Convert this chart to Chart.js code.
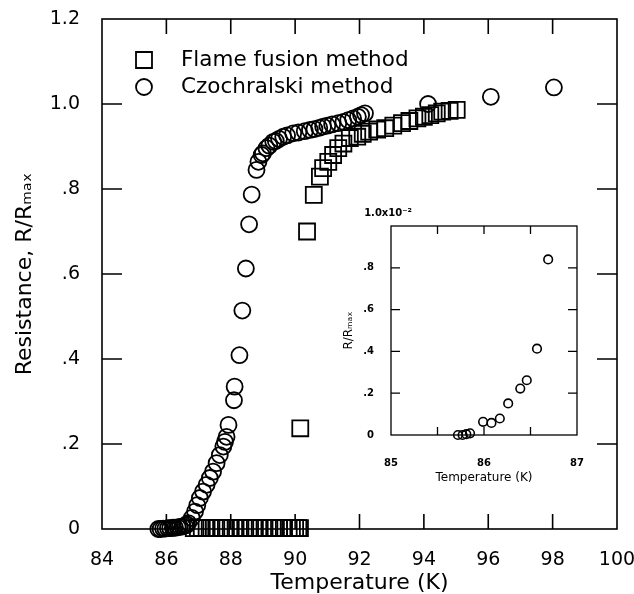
<!DOCTYPE html>
<html>
<head>
<meta charset="utf-8">
<script src="https://cdn.jsdelivr.net/npm/chart.js@4/dist/chart.umd.min.js"></script>
<style>
  html, body { margin: 0; padding: 0; background: #fff; }
  #wrap { position: relative; width: 634px; height: 594px; }
  #main { position: absolute; left: 0; top: 0; }
  #inset { position: absolute; left: 330px; top: 200px; }
</style>
</head>
<body>
<div id="wrap">
  <canvas id="main" width="634" height="594"></canvas>
  <canvas id="inset" width="260" height="295"></canvas>
</div>
<script>
// Czochralski method (circles), temperature in K and R/Rmax
const czTemp = [85.75, 85.82, 85.9, 85.97, 86.05, 86.12, 86.2, 86.27, 86.35, 86.42, 86.5, 86.57, 86.64,
  86.68, 86.79, 86.89, 86.96, 87.04, 87.14, 87.25, 87.35, 87.45, 87.56, 87.66, 87.77, 87.82, 87.87, 87.93,
  88.1, 88.12, 88.27, 88.36, 88.47, 88.57, 88.65, 88.8, 88.86, 88.96, 89.0, 89.11, 89.2, 89.32, 89.4, 89.5,
  89.63, 89.75, 89.94, 90.1, 90.3, 90.46, 90.6, 90.75, 90.87, 91.0, 91.15, 91.34, 91.5, 91.65, 91.8, 91.95,
  92.05, 92.17, 94.13, 96.08, 98.04];
const czRes = [0, 0, 0.001, 0.001, 0.002, 0.002, 0.003, 0.003, 0.004, 0.005, 0.006, 0.008, 0.01,
  0.014, 0.026, 0.041, 0.056, 0.073, 0.088, 0.104, 0.12, 0.135, 0.155, 0.174, 0.194, 0.205, 0.217, 0.245,
  0.303, 0.335, 0.409, 0.514, 0.613, 0.717, 0.787, 0.845, 0.864, 0.88, 0.884, 0.896, 0.902, 0.911, 0.913, 0.918,
  0.923, 0.926, 0.931, 0.933, 0.936, 0.939, 0.941, 0.944, 0.947, 0.949, 0.952, 0.955, 0.958, 0.962, 0.966, 0.97,
  0.974, 0.978, 1.0, 1.017, 1.039];

// Flame fusion method (squares)
const ffTemp = [86.85, 86.98, 87.1, 87.25, 87.4, 87.55, 87.7, 87.85, 88.0, 88.15, 88.3, 88.45, 88.6, 88.75,
  88.9, 89.05, 89.2, 89.35, 89.5, 89.65, 89.8, 89.9, 90.0, 90.1, 90.15,
  90.16, 90.37, 90.58, 90.77, 90.87, 91.03, 91.18, 91.34, 91.5, 91.7, 91.93, 92.1, 92.3, 92.55, 92.8,
  93.05, 93.32, 93.55, 93.8, 94.0, 94.2, 94.4, 94.57, 94.8, 95.02];
const ffRes = [0.002, 0.002, 0.002, 0.002, 0.002, 0.002, 0.002, 0.002, 0.002, 0.002, 0.002, 0.002, 0.002, 0.002,
  0.002, 0.002, 0.002, 0.002, 0.002, 0.002, 0.002, 0.002, 0.002, 0.002, 0.002,
  0.237, 0.70, 0.786, 0.829, 0.849, 0.864, 0.88, 0.896, 0.907, 0.92, 0.923, 0.93, 0.935, 0.94, 0.943,
  0.949, 0.955, 0.96, 0.966, 0.97, 0.974, 0.978, 0.982, 0.984, 0.986];

// inset, R/Rmax in units of 1e-2
const insetTemp = [85.72, 85.77, 85.81, 85.85, 85.99, 86.08, 86.17, 86.26, 86.39, 86.46, 86.57, 86.69];
const insetRes = [0, 0, 0.004, 0.008, 0.063, 0.058, 0.079, 0.151, 0.222, 0.262, 0.413, 0.84];

const mainXTicks = [86, 88, 90, 92, 94, 96, 98];
const mainYTicks = [0.2, 0.4, 0.6, 0.8, 1.0];
const insetXTicks = [85.5, 86, 86.5];
const insetYTicks = [0.2, 0.4, 0.6, 0.8];

Chart.defaults.font.family = 'DejaVu Sans';
Chart.defaults.color = '#000';

const toPoints = (xs, ys) => xs.map((t, i) => ({ x: t, y: ys[i] }));

const fmtMainY = (v) => {
  const r = Math.round(v * 10) / 10;
  if (r === 0) return '0';
  if (r >= 1) return r.toFixed(1);
  return '.' + Math.round(r * 10);
};

// frame plus inward ticks on all four sides
const frameTicks = {
  id: 'frameTicks',
  beforeDatasetsDraw(chart, args, opts) {
    const { ctx, chartArea: a, scales: { x, y } } = chart;
    ctx.save();
    ctx.strokeStyle = '#000';
    ctx.lineWidth = opts.lineWidth;
    ctx.strokeRect(a.left, a.top, a.right - a.left, a.bottom - a.top);
    ctx.beginPath();
    opts.xTicks.forEach((v) => {
      const px = x.getPixelForValue(v);
      ctx.moveTo(px, a.bottom); ctx.lineTo(px, a.bottom - opts.xLen);
      ctx.moveTo(px, a.top); ctx.lineTo(px, a.top + opts.xLen);
    });
    opts.yTicks.forEach((v) => {
      const py = y.getPixelForValue(v);
      ctx.moveTo(a.left, py); ctx.lineTo(a.left + opts.yLen, py);
      ctx.moveTo(a.right, py); ctx.lineTo(a.right - opts.yLen, py);
    });
    ctx.stroke();
    ctx.restore();
  }
};

const cornerLegend = {
  id: 'cornerLegend',
  afterDraw(chart, args, opts) {
    if (!opts.display) return;
    const { ctx } = chart;
    ctx.save();
    ctx.font = opts.font;
    ctx.textBaseline = 'middle';
    chart.data.datasets.forEach((ds, i) => {
      const yy = opts.y + i * opts.rowGap;
      ctx.strokeStyle = '#000';
      ctx.fillStyle = 'rgba(0,0,0,0)';
      ctx.lineWidth = ds.borderWidth;
      Chart.helpers.drawPoint(ctx, { pointStyle: ds.pointStyle, radius: ds.pointRadius, borderWidth: ds.borderWidth }, opts.x, yy);
      ctx.fillStyle = '#000';
      ctx.fillText(ds.label, opts.textX, yy);
    });
    ctx.restore();
  }
};

const insetNote = {
  id: 'insetNote',
  afterDraw(chart, args, opts) {
    if (!opts.text) return;
    const { ctx, chartArea: a } = chart;
    ctx.save();
    ctx.font = opts.font;
    ctx.fillStyle = '#000';
    ctx.textAlign = 'center';
    ctx.textBaseline = 'middle';
    ctx.fillText(opts.text, a.left - 3, chart.scales.y.getPixelForValue(1.0) - 13);
    ctx.restore();
  }
};

// tick labels may hang past the plot edge without shrinking it
const noEdgePad = (s, h) => {
  s.height = h;
  s.paddingLeft = 0;
  s.paddingRight = 0;
};

new Chart(document.getElementById('main'), {
  type: 'scatter',
  data: {
    datasets: [
      {
        label: 'Flame fusion method',
        data: toPoints(ffTemp, ffRes),
        pointStyle: 'rect',
        pointRadius: 11.3,
        borderWidth: 1.8,
        borderColor: '#000',
        backgroundColor: 'rgba(0,0,0,0)',
        clip: false
      },
      {
        label: 'Czochralski method',
        data: toPoints(czTemp, czRes),
        pointStyle: 'circle',
        pointRadius: 8,
        borderWidth: 1.8,
        borderColor: '#000',
        backgroundColor: 'rgba(0,0,0,0)',
        clip: false
      }
    ]
  },
  options: {
    responsive: false,
    animation: false,
    events: [],
    layout: { padding: { left: 0, top: 19, right: 17, bottom: 0 } },
    plugins: {
      legend: { display: false },
      tooltip: { enabled: false },
      frameTicks: { lineWidth: 1.6, xTicks: mainXTicks, yTicks: mainYTicks, xLen: 15, yLen: 20 },
      cornerLegend: { display: true, x: 144, y: 60, rowGap: 27, textX: 181, font: '21.5px "DejaVu Sans"' }
    },
    scales: {
      x: {
        type: 'linear',
        min: 84, max: 100,
        grid: { display: false },
        border: { display: false },
        ticks: { stepSize: 2, padding: 12, font: { size: 19 } },
        title: { display: true, text: 'Temperature (K)', font: { size: 22, lineHeight: 1 }, padding: { top: 0, bottom: 0 } },
        afterFit: (s) => noEdgePad(s, 65)
      },
      y: {
        min: 0, max: 1.2,
        grid: { display: false },
        border: { display: false },
        ticks: { stepSize: 0.2, padding: 14, font: { size: 19 }, callback: fmtMainY },
        title: { display: true, text: 'Resistance, R/Rₘₐₓ', font: { size: 22, lineHeight: 1 }, padding: { top: 14, bottom: 0 } },
        afterFit: (s) => { s.width = 102; s.paddingTop = 0; s.paddingBottom = 0; }
      }
    }
  },
  plugins: [frameTicks, cornerLegend]
});

new Chart(document.getElementById('inset'), {
  type: 'scatter',
  data: {
    datasets: [{
      label: 'Czochralski method',
      data: toPoints(insetTemp, insetRes),
      pointStyle: 'circle',
      pointRadius: 4.3,
      borderWidth: 1.6,
      borderColor: '#000',
      backgroundColor: 'rgba(0,0,0,0)',
      clip: false
    }]
  },
  options: {
    responsive: false,
    animation: false,
    events: [],
    layout: { padding: { left: 0, top: 26, right: 13, bottom: 0 } },
    plugins: {
      legend: { display: false },
      tooltip: { enabled: false },
      frameTicks: { lineWidth: 1.3, xTicks: insetXTicks, yTicks: insetYTicks, xLen: 8, yLen: 9 },
      insetNote: { text: '1.0x10⁻²', font: 'bold 10px "DejaVu Sans"' }
    },
    scales: {
      x: {
        type: 'linear',
        min: 85, max: 87,
        grid: { display: false },
        border: { display: false },
        ticks: { stepSize: 1, padding: 14, font: { size: 10, weight: 'bold' } },
        title: { display: true, text: 'Temperature (K)', font: { size: 12, lineHeight: 1 }, padding: { top: 0, bottom: 11 } },
        afterFit: (s) => noEdgePad(s, 60)
      },
      y: {
        min: 0, max: 1.0,
        grid: { display: false },
        border: { display: false },
        ticks: {
          stepSize: 0.2, padding: 9, font: { size: 10, weight: 'bold' },
          callback: (v) => {
            const r = Math.round(v * 10) / 10;
            if (r === 0) return '0';
            if (r >= 1) return '';
            return '.' + Math.round(r * 10);
          }
        },
        title: { display: true, text: 'R/Rₘₐₓ', font: { size: 12, lineHeight: 1 }, padding: { top: 13, bottom: 0 } },
        afterFit: (s) => { s.width = 61; s.paddingTop = 0; s.paddingBottom = 0; }
      }
    }
  },
  plugins: [frameTicks, insetNote]
});
</script>
</body>
</html>
